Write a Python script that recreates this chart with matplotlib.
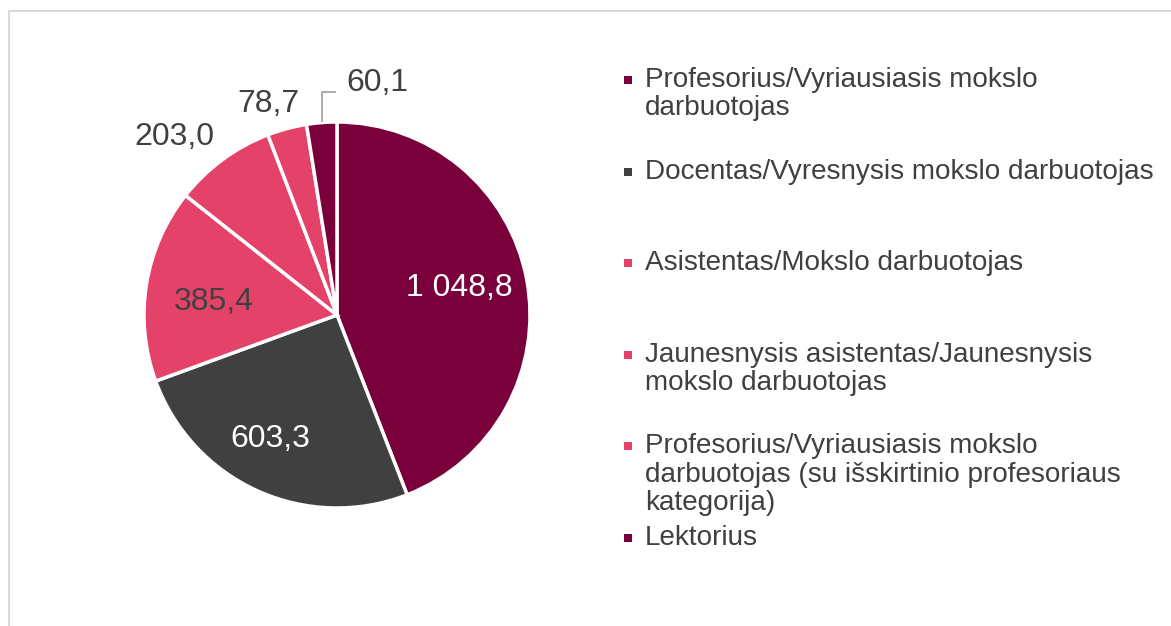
import numpy as np
import matplotlib

matplotlib.use("Agg")
import matplotlib.pyplot as plt
from matplotlib.patches import Rectangle

plt.rcParams["font.family"] = ["Liberation Sans", "DejaVu Sans"]

# duomenys
kategorijos = [
    "Profesorius/Vyriausiasis mokslo\ndarbuotojas",
    "Docentas/Vyresnysis mokslo darbuotojas",
    "Asistentas/Mokslo darbuotojas",
    "Jaunesnysis asistentas/Jaunesnysis\nmokslo darbuotojas",
    "Profesorius/Vyriausiasis mokslo\ndarbuotojas (su išskirtinio profesoriaus\nkategorija)",
    "Lektorius",
]
reiksmes = [1048.8, 603.3, 385.4, 203.0, 78.7, 60.1]
etiketes = ["1 048,8", "603,3", "385,4", "203,0", "78,7", "60,1"]

spalvos = ["#7A003C", "#404040", "#E5426A", "#E5426A", "#E5426A", "#7A003C"]
teksto_spalvos = ["white", "white", "#404040", "#404040", "#404040", "#404040"]
# etikečių atstumas nuo centro (spindulio dalimis) ir kampo pataisa
etik_r = [0.65, 0.73, 0.64, 1.25, 1.15, 1.22]
etik_kampas = [2, -4, 3, 6, 3, 0]

pilka = "#404040"

fig = plt.figure(figsize=(11.71, 6.26), dpi=100)
W, H = 1171, 626

# rėmelis
fig.patches.append(Rectangle((9 / W, -0.1), 1.2, (626 - 11) / H + 0.1,
                             transform=fig.transFigure, fill=False,
                             edgecolor="#D9D9D9", linewidth=1.5))

R = 193
lim = 1.3
cx, cy = 337, 626 - 315
ax = fig.add_axes([(cx - lim * R) / W, (cy - lim * R) / H, 2 * lim * R / W, 2 * lim * R / H])

wedges, _ = ax.pie(reiksmes, colors=spalvos, startangle=90, counterclock=False,
                   wedgeprops=dict(edgecolor="white", linewidth=2.5))
ax.set_xlim(-lim, lim)
ax.set_ylim(-lim, lim)
ax.set_aspect("equal")
ax.axis("off")

for i, w in enumerate(wedges):
    mid = np.deg2rad((w.theta1 + w.theta2) / 2 + etik_kampas[i])
    x, y = etik_r[i] * np.cos(mid), etik_r[i] * np.sin(mid)
    if i == len(wedges) - 1:
        # Lektorius - etiketė su linija
        m = np.deg2rad((w.theta1 + w.theta2) / 2)
        x0, y0 = np.cos(m) * 1.01, np.sin(m) * 1.01
        ax.plot([x0, x0, x0 + 0.07], [y0, 1.155, 1.155], color="#A6A6A6", lw=1.3)
        ax.text(x0 + 0.13, 1.2, etiketes[i], ha="left", va="center",
                fontsize=23, color=teksto_spalvos[i])
    else:
        ax.text(x, y, etiketes[i], ha="center", va="center",
                fontsize=23, color=teksto_spalvos[i])

# legenda
y_virsus = 80
zingsnis = 91.6
for i, (k, s) in enumerate(zip(kategorijos, spalvos)):
    yy = y_virsus + i * zingsnis
    fig.patches.append(Rectangle((624 / W, (H - yy - 4) / H), 8 / W, 8 / H,
                                 transform=fig.transFigure, facecolor=s,
                                 edgecolor="none"))
    fig.text(645 / W, (H - yy + 13) / H, k, ha="left", va="top",
             fontsize=20.1, color=pilka, linespacing=1.12)

plt.savefig("out.png", dpi=100)
plt.close()
